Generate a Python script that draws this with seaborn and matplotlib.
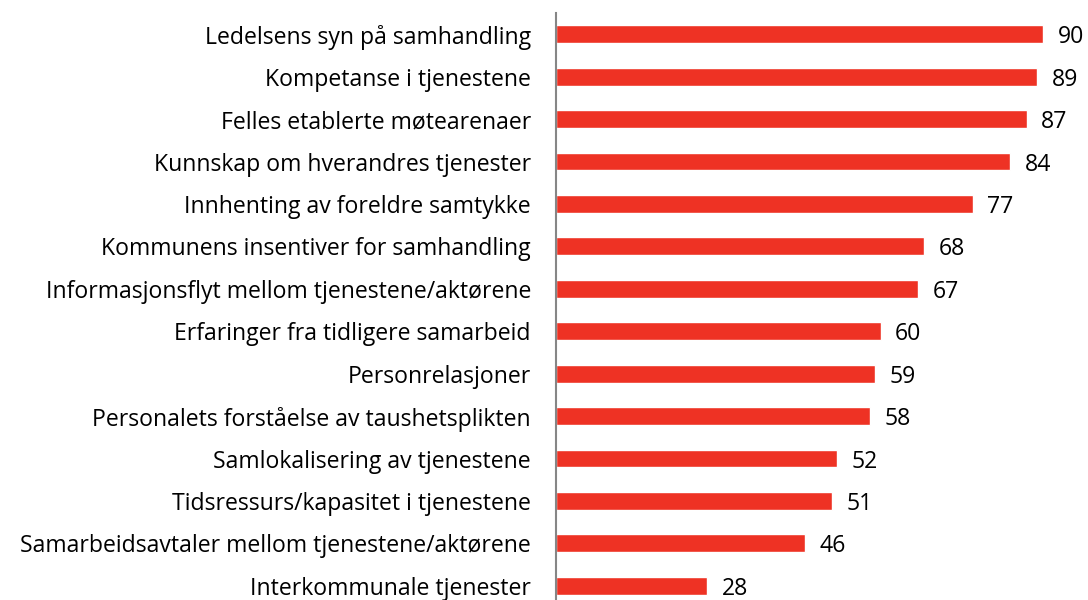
import matplotlib
matplotlib.use("Agg")
import matplotlib.pyplot as plt
import seaborn as sns
import pandas as pd

categories = [
    "Ledelsens syn på samhandling",
    "Kompetanse i tjenestene",
    "Felles etablerte møtearenaer",
    "Kunnskap om hverandres tjenester",
    "Innhenting av foreldre samtykke",
    "Kommunens insentiver for samhandling",
    "Informasjonsflyt mellom tjenestene/aktørene",
    "Erfaringer fra tidligere samarbeid",
    "Personrelasjoner",
    "Personalets forståelse av taushetsplikten",
    "Samlokalisering av tjenestene",
    "Tidsressurs/kapasitet i tjenestene",
    "Samarbeidsavtaler mellom tjenestene/aktørene",
    "Interkommunale tjenester",
]
values = [90, 89, 87, 84, 77, 68, 67, 60, 59, 58, 52, 51, 46, 28]

df = pd.DataFrame({"cat": categories, "val": values})

sns.set_style("white")
plt.rcParams['font.family'] = ['Open Sans', 'DejaVu Sans']

fig = plt.figure(figsize=(10.88, 6.0), dpi=100)
ax = fig.add_axes([556/1088, -7/600, (97*5.41)/1088, 594/600])

sns.barplot(data=df, x="val", y="cat", color="#EE3224", saturation=1,
            width=0.42, ax=ax, orient="h")

ax.set_xlim(0, 97)
ax.set_ylim(len(categories) - 0.5, -0.5)
ax.set_xlabel("")
ax.set_ylabel("")
ax.set_xticks([])
for s in ["top", "right", "bottom"]:
    ax.spines[s].set_visible(False)
ax.spines["left"].set_color("#868686")
ax.spines["left"].set_linewidth(1.5)
ax.tick_params(axis="y", length=0, pad=18, labelsize=16.6, labelcolor="black")
for lbl in ax.get_yticklabels():
    lbl.set_verticalalignment("center_baseline")

for i, v in enumerate(values):
    ax.text(v + 2.7, i, str(v), va="center_baseline", ha="left", fontsize=16.6,
            color="black")

fig.savefig("out.png", dpi=100)
